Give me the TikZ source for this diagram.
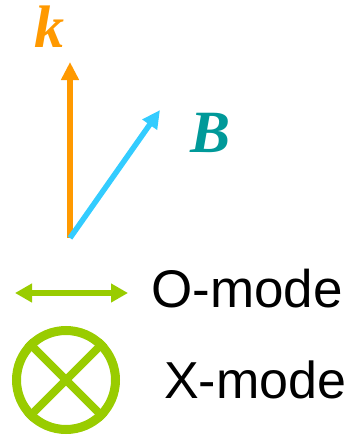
\documentclass[tikz,border=0pt]{standalone}
\usepackage{fontspec}
\setmainfont{Liberation Serif}
\setsansfont{Liberation Sans}
\usepackage{xcolor}
\usetikzlibrary{positioning, arrows.meta}

\definecolor{korange}{HTML}{FF9900}
\definecolor{bblue}{HTML}{33CCFF}
\definecolor{bteal}{HTML}{009999}
\definecolor{mgreen}{HTML}{99CC00}

\begin{document}
\begin{tikzpicture}[
    x=1pt, y=1pt,
    vec/.style={-{Triangle[length=18pt, width=17pt]}, line width=5.5pt, draw=#1},
    dblvec/.style={{Triangle[length=17pt, width=18pt]}-{Triangle[length=17pt, width=18pt]}, line width=5.5pt, draw=#1},
    vlbl/.style={font=\fontsize{60}{60}\selectfont\bfseries\itshape, text=#1, inner sep=0pt, anchor=base west},
    mlbl/.style={font=\fontsize{#1}{#1}\selectfont\sffamily, inner sep=0pt, anchor=base west},
  ]
  \useasboundingbox (0,0) rectangle (349,-437);

  % ---- vectors k and B ----
  \coordinate (orig) at (70,-238);
  \coordinate (ktip) at (70,-62);
  \coordinate (btip) at (160,-110);
  \draw[vec=korange] (orig) -- (ktip);
  \draw[vec=bblue] (orig) -- (btip);
  \node[vlbl=korange] (klbl) at (34,-47) {k};
  \node[vlbl=bteal] (blbl) at (190,-152) {B};

  % ---- O-mode ----
  \coordinate (oleft) at (15,-293);
  \coordinate (oright) at (128,-293);
  \draw[dblvec=mgreen] (oleft) -- (oright);
  \node[mlbl=53] (olbl) at (151,-307) {O-mode};

  % ---- X-mode ----
  \node[draw=mgreen, line width=9pt, circle, minimum size=99pt, inner sep=0pt] (xcirc) at (66,-380) {};
  \draw[mgreen, line width=8pt] (xcirc.north west) -- (xcirc.south east);
  \draw[mgreen, line width=8pt] (xcirc.north east) -- (xcirc.south west);
  \node[mlbl=52] (xlbl) at (164,-398) {X-mode};

\end{tikzpicture}
\end{document}
